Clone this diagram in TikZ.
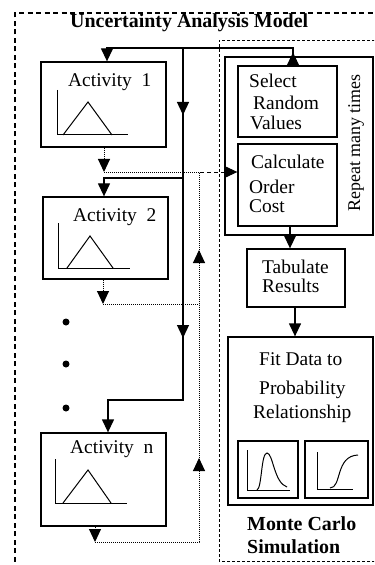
\documentclass[tikz,border=0pt]{standalone}
\usepackage{fontspec}
\setmainfont{Liberation Serif}
\usetikzlibrary{arrows.meta,calc}
\begin{document}
\begin{tikzpicture}[x=1bp,y=-1bp,
  >={Triangle[width=12bp,length=13bp]},
  box/.style={draw,line width=1.3bp,inner sep=0pt},
  sl/.style={line width=1.3bp},
  dl/.style={line width=1bp,dash pattern=on 1bp off 1bp},
  dashl/.style={line width=1bp,dash pattern=on 4bp off 3bp},
  txt/.style={inner sep=0pt,anchor=base west,font=\fontsize{19.5}{21}\selectfont},
  btxt/.style={inner sep=0pt,anchor=base west,font=\fontsize{20}{22}\selectfont\bfseries},
  thin/.style={line width=1bp},
  dotmark/.style={circle,fill,inner sep=0pt,minimum size=7bp}]
\useasboundingbox (0,0) rectangle (374,565);
\clip (0,0) rectangle (374,565);
% frames
\draw[line width=1.2bp,dash pattern=on 5bp off 3.5bp] (15,570) -- (15,13) -- (380,13);
\draw[line width=0.7bp,dash pattern=on 3bp off 2bp] (380,561) -- (219,561) -- (219,40) -- (380,40);
\node[btxt] (title) at (70,28) {Uncertainty Analysis Model};
% activity boxes
\node[box,minimum width=125bp,minimum height=85bp] (act1) at (103.5,104.5) {};
\node[box,minimum width=125bp,minimum height=82bp] (act2) at (105.5,238) {};
\node[box,minimum width=125bp,minimum height=93bp] (actn) at (103.5,479.5) {};
\node[txt] (t1) at (68,87) {Activity\ \ 1};
\node[txt] (t2txt) at (73,221) {Activity\ \ 2};
\node[txt] (tn) at (70,453) {Activity\ \ n};
% triangles
\draw[thin] (57,90) -- (57,135) -- (128,135);
\draw[thin] (63,135) -- (88,102) -- (112,135);
\draw[thin] (58,223) -- (58,268) -- (130,268);
\draw[thin] (67,268) -- (90,236) -- (113,268);
\draw[thin] (55,459) -- (55,503) -- (127,503);
\draw[thin] (63,503) -- (88,470) -- (111,503);
% dots
\node[dotmark] (p1) at (66,322) {};
\node[dotmark] (p2) at (66,364) {};
\node[dotmark] (p3) at (66,408) {};
% Monte Carlo side
\node[box,minimum width=148bp,minimum height=178bp] (rep) at (299,146) {};
\node[box,minimum width=99bp,minimum height=71bp] (select) at (287.5,101.5) {};
\node[box,minimum width=99bp,minimum height=82bp] (calc) at (287.5,185) {};
\node[box,minimum width=98bp,minimum height=58bp] (tab) at (296,278) {};
\node[box,minimum width=145bp,minimum height=168bp] (fit) at (300.5,421) {};
\node[box,minimum width=60bp,minimum height=57bp] (pl1) at (268,469.5) {};
\node[box,minimum width=63bp,minimum height=57bp] (pl2) at (336.5,469.5) {};
\node[txt] (s1) at (249,88) {Select};
\node[txt] (s2) at (253,110) {Random};
\node[txt] (s3) at (250,130) {Values};
\node[txt] (c1t) at (251,169) {Calculate};
\node[txt] (c2t) at (249,193) {Order};
\node[txt] (c3t) at (249,212) {Cost};
\node[txt] (tb1) at (262,273) {Tabulate};
\node[txt] (tb2) at (262,292) {Results};
\node[txt] (f1) at (259,365) {Fit Data to};
\node[txt] (f2) at (259,394) {Probability};
\node[txt] (f3) at (253,418) {Relationship};
\node[inner sep=0pt,rotate=90,font=\fontsize{18}{20}\selectfont] (rpt) at (356,143) {Repeat many times};
\node[btxt] (mc1) at (247,530) {Monte Carlo};
\node[btxt] (mc2) at (247,553) {Simulation};
% plots
\draw[thin] (247,450) -- (247,490) -- (290,490);
\draw[thin] (257,490) .. controls (262,488) and (261,453) .. (267,453) .. controls (273,453) and (274,483) .. (287,487);
\draw[thin] (317,452) -- (317,489) -- (353,489);
\draw[thin] (330,488) .. controls (342,488) and (335,456) .. (358,455);
% solid connectors
\coordinate (tR) at (293,48);
\coordinate (tL) at (107,48);
\coordinate (bus) at (183,48);
\coordinate (busEnd) at (183,400);
\coordinate (nTurn) at (108,400);
\coordinate (b2) at (183,178);
\coordinate (t2) at (104,178);
\draw[sl,->] (select.north -| tR) -- (tR) -- (tL) -- (tL |- act1.north);
\draw[sl,->] (select.north -| tR) -- ($(select.north -| tR)+(0,-13)$);
\draw[sl,->] (bus) -- (busEnd) -- (nTurn) -- (nTurn |- actn.north);
\draw[sl,->] (b2) -- (t2) -- (t2 |- act2.north);
\draw[sl,->] (bus) -- (183,115);
\draw[sl,->] (bus) -- (183,338);
\coordinate (cx1) at (290,0);
\coordinate (cx2) at (295,0);
\draw[sl,->] (calc.south -| cx1) -- (tab.north -| cx1);
\draw[sl,->] (tab.south -| cx2) -- (fit.north -| cx2);
% dotted connectors
\coordinate (d1) at (104,172);
\coordinate (dv) at (199,172);
\coordinate (dmid) at (200,172);
\coordinate (d2) at (103,304);
\coordinate (dv2) at (199,304);
\coordinate (d3) at (95,542);
\coordinate (dvb) at (199,542);
\draw[dl,->] (act1.south -| d1) -- (d1);
\draw[dl] (d1) -- (dmid);
\draw[dashl,->] (dmid) -- (calc.west |- d1);
\draw[dl,->] (act2.south -| d2) -- (d2);
\draw[dl] (d2) -- (dv2);
\draw[dl,->] (actn.south -| d3) -- (d3);
\draw[dl] (d3) -- (dvb) -- (dv);
\draw[dl,->] (dvb) -- (199,458);
\draw[dl,->] (dvb) -- (199,250);
\end{tikzpicture}
\end{document}
